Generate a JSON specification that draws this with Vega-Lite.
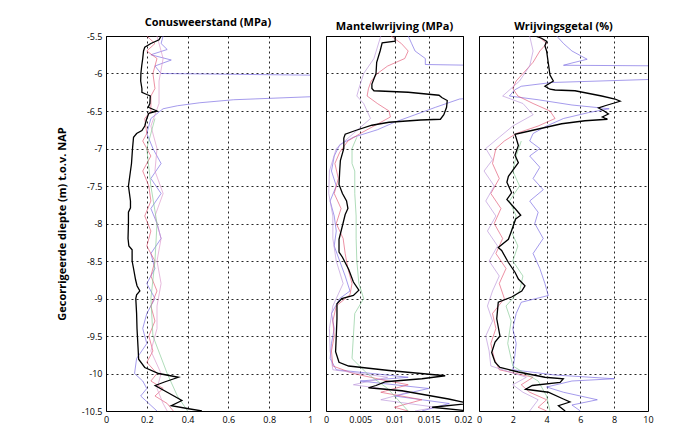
{
"$schema":"https://vega.github.io/schema/vega-lite/v6.json",
"padding":{"left":55,"top":16,"right":5,"bottom":2},
"background":"white",
"bounds":"flush",
"config":{
"font":"Open Sans",
"view":{"stroke":"#000","strokeWidth":1},
"axis":{"grid":true,"gridColor":"#000","gridDash":[2,3],"gridWidth":1,"gridOpacity":0.85,"ticks":false,"domain":false,"labelFontSize":9,"labelColor":"#000","labelPadding":4,"labelFlush":false,"titleColor":"#000","titleFontSize":11,"titleFontWeight":"bold"},
"title":{"fontSize":11,"fontWeight":"bold","color":"#000","offset":4,"anchor":"middle"},
"concat":{"spacing":16}
},
"datasets":{
"qc":[
{"s":"k","d":-5.5,"v":0.27},{"s":"k","d":-5.55,"v":0.26},{"s":"k","d":-5.6,"v":0.22},{"s":"k","d":-5.65,"v":0.19},{"s":"k","d":-5.7,"v":0.184},{"s":"k","d":-5.8,"v":0.18},{"s":"k","d":-5.9,"v":0.175},{"s":"k","d":-6.0,"v":0.171},{"s":"k","d":-6.1,"v":0.17},{"s":"k","d":-6.2,"v":0.176},{"s":"k","d":-6.25,"v":0.176},{"s":"k","d":-6.28,"v":0.2},{"s":"k","d":-6.3,"v":0.217},{"s":"k","d":-6.4,"v":0.215},{"s":"k","d":-6.45,"v":0.207},{"s":"k","d":-6.5,"v":0.25},{"s":"k","d":-6.53,"v":0.21},{"s":"k","d":-6.6,"v":0.2},{"s":"k","d":-6.7,"v":0.19},{"s":"k","d":-6.76,"v":0.176},{"s":"k","d":-6.8,"v":0.15},{"s":"k","d":-6.85,"v":0.135},{"s":"k","d":-7.0,"v":0.13},{"s":"k","d":-7.2,"v":0.125},{"s":"k","d":-7.4,"v":0.115},{"s":"k","d":-7.5,"v":0.11},{"s":"k","d":-7.6,"v":0.115},{"s":"k","d":-7.7,"v":0.12},{"s":"k","d":-7.79,"v":0.12},{"s":"k","d":-7.85,"v":0.11},{"s":"k","d":-8.0,"v":0.11},{"s":"k","d":-8.2,"v":0.108},{"s":"k","d":-8.3,"v":0.112},{"s":"k","d":-8.35,"v":0.128},{"s":"k","d":-8.5,"v":0.128},{"s":"k","d":-8.6,"v":0.135},{"s":"k","d":-8.75,"v":0.145},{"s":"k","d":-8.83,"v":0.152},{"s":"k","d":-8.9,"v":0.166},{"s":"k","d":-8.95,"v":0.15},{"s":"k","d":-9.0,"v":0.146},{"s":"k","d":-9.2,"v":0.15},{"s":"k","d":-9.4,"v":0.152},{"s":"k","d":-9.5,"v":0.154},{"s":"k","d":-9.7,"v":0.158},{"s":"k","d":-9.81,"v":0.16},{"s":"k","d":-9.92,"v":0.19},{"s":"k","d":-10.0,"v":0.258},{"s":"k","d":-10.05,"v":0.355},{"s":"k","d":-10.11,"v":0.29},{"s":"k","d":-10.16,"v":0.241},{"s":"k","d":-10.25,"v":0.3},{"s":"k","d":-10.36,"v":0.372},{"s":"k","d":-10.43,"v":0.32},{"s":"k","d":-10.47,"v":0.405},{"s":"k","d":-10.5,"v":0.47},
{"s":"b","d":-5.5,"v":0.28},{"s":"b","d":-5.6,"v":0.27},{"s":"b","d":-5.68,"v":0.3},{"s":"b","d":-5.75,"v":0.22},{"s":"b","d":-5.82,"v":0.32},{"s":"b","d":-5.9,"v":0.24},{"s":"b","d":-6.0,"v":0.27},{"s":"b","d":-6.04,"v":1.6},{"s":"b","d":-6.29,"v":1.6},{"s":"b","d":-6.31,"v":1.0},{"s":"b","d":-6.35,"v":0.625},{"s":"b","d":-6.39,"v":0.46},{"s":"b","d":-6.43,"v":0.35},{"s":"b","d":-6.47,"v":0.28},{"s":"b","d":-6.6,"v":0.22},{"s":"b","d":-6.8,"v":0.2},{"s":"b","d":-7.0,"v":0.23},{"s":"b","d":-7.2,"v":0.27},{"s":"b","d":-7.4,"v":0.22},{"s":"b","d":-7.6,"v":0.27},{"s":"b","d":-7.8,"v":0.22},{"s":"b","d":-8.0,"v":0.25},{"s":"b","d":-8.2,"v":0.27},{"s":"b","d":-8.4,"v":0.22},{"s":"b","d":-8.6,"v":0.24},{"s":"b","d":-8.8,"v":0.2},{"s":"b","d":-9.0,"v":0.24},{"s":"b","d":-9.2,"v":0.2},{"s":"b","d":-9.4,"v":0.18},{"s":"b","d":-9.6,"v":0.2},{"s":"b","d":-9.8,"v":0.15},{"s":"b","d":-10.0,"v":0.14},{"s":"b","d":-10.1,"v":0.18},{"s":"b","d":-10.2,"v":0.2},{"s":"b","d":-10.3,"v":0.17},{"s":"b","d":-10.4,"v":0.21},{"s":"b","d":-10.5,"v":0.25},
{"s":"r","d":-5.5,"v":0.2},{"s":"r","d":-5.6,"v":0.24},{"s":"r","d":-5.7,"v":0.2},{"s":"r","d":-5.8,"v":0.25},{"s":"r","d":-6.0,"v":0.23},{"s":"r","d":-6.2,"v":0.24},{"s":"r","d":-6.3,"v":0.22},{"s":"r","d":-6.5,"v":0.22},{"s":"r","d":-6.6,"v":0.19},{"s":"r","d":-6.8,"v":0.2},{"s":"r","d":-6.9,"v":0.18},{"s":"r","d":-7.1,"v":0.22},{"s":"r","d":-7.3,"v":0.18},{"s":"r","d":-7.5,"v":0.21},{"s":"r","d":-7.7,"v":0.22},{"s":"r","d":-7.9,"v":0.19},{"s":"r","d":-8.1,"v":0.22},{"s":"r","d":-8.3,"v":0.2},{"s":"r","d":-8.5,"v":0.24},{"s":"r","d":-8.7,"v":0.22},{"s":"r","d":-8.9,"v":0.25},{"s":"r","d":-9.1,"v":0.22},{"s":"r","d":-9.3,"v":0.24},{"s":"r","d":-9.5,"v":0.21},{"s":"r","d":-9.7,"v":0.23},{"s":"r","d":-9.85,"v":0.2},{"s":"r","d":-10.0,"v":0.25},{"s":"r","d":-10.1,"v":0.22},{"s":"r","d":-10.2,"v":0.28},{"s":"r","d":-10.3,"v":0.24},{"s":"r","d":-10.4,"v":0.3},{"s":"r","d":-10.5,"v":0.33},
{"s":"p","d":-5.5,"v":0.25},{"s":"p","d":-5.8,"v":0.28},{"s":"p","d":-6.1,"v":0.26},{"s":"p","d":-6.4,"v":0.26},{"s":"p","d":-6.7,"v":0.22},{"s":"p","d":-7.0,"v":0.25},{"s":"p","d":-7.3,"v":0.24},{"s":"p","d":-7.6,"v":0.28},{"s":"p","d":-7.9,"v":0.24},{"s":"p","d":-8.2,"v":0.27},{"s":"p","d":-8.5,"v":0.25},{"s":"p","d":-8.8,"v":0.27},{"s":"p","d":-9.1,"v":0.25},{"s":"p","d":-9.4,"v":0.25},{"s":"p","d":-9.7,"v":0.22},{"s":"p","d":-10.0,"v":0.27},{"s":"p","d":-10.2,"v":0.25},{"s":"p","d":-10.4,"v":0.28},{"s":"p","d":-10.5,"v":0.3},
{"s":"g","d":-6.6,"v":0.24},{"s":"g","d":-7.0,"v":0.2},{"s":"g","d":-7.5,"v":0.22},{"s":"g","d":-8.0,"v":0.25},{"s":"g","d":-8.5,"v":0.24},{"s":"g","d":-9.0,"v":0.22},{"s":"g","d":-9.5,"v":0.23},{"s":"g","d":-10.0,"v":0.3},{"s":"g","d":-10.3,"v":0.35},{"s":"g","d":-10.5,"v":0.4}
],
"fs":[
{"s":"k","d":-5.5,"v":0.0101},{"s":"k","d":-5.57,"v":0.0101},{"s":"k","d":-5.59,"v":0.0082},{"s":"k","d":-5.7,"v":0.0079},{"s":"k","d":-5.85,"v":0.0074},{"s":"k","d":-6.0,"v":0.0073},{"s":"k","d":-6.14,"v":0.0067},{"s":"k","d":-6.2,"v":0.0067},{"s":"k","d":-6.23,"v":0.007},{"s":"k","d":-6.25,"v":0.012},{"s":"k","d":-6.29,"v":0.0165},{"s":"k","d":-6.32,"v":0.0169},{"s":"k","d":-6.36,"v":0.0177},{"s":"k","d":-6.45,"v":0.0176},{"s":"k","d":-6.55,"v":0.0172},{"s":"k","d":-6.61,"v":0.0167},{"s":"k","d":-6.62,"v":0.0138},{"s":"k","d":-6.65,"v":0.0092},{"s":"k","d":-6.69,"v":0.0067},{"s":"k","d":-6.76,"v":0.0043},{"s":"k","d":-6.81,"v":0.0028},{"s":"k","d":-6.86,"v":0.0026},{"s":"k","d":-7.0,"v":0.0026},{"s":"k","d":-7.16,"v":0.0021},{"s":"k","d":-7.3,"v":0.002},{"s":"k","d":-7.48,"v":0.0019},{"s":"k","d":-7.6,"v":0.0024},{"s":"k","d":-7.7,"v":0.003},{"s":"k","d":-7.8,"v":0.0032},{"s":"k","d":-7.88,"v":0.0028},{"s":"k","d":-8.03,"v":0.0024},{"s":"k","d":-8.21,"v":0.0019},{"s":"k","d":-8.38,"v":0.0019},{"s":"k","d":-8.45,"v":0.0024},{"s":"k","d":-8.61,"v":0.0033},{"s":"k","d":-8.78,"v":0.004},{"s":"k","d":-8.89,"v":0.0048},{"s":"k","d":-8.96,"v":0.004},{"s":"k","d":-9.0,"v":0.0023},{"s":"k","d":-9.07,"v":0.0016},{"s":"k","d":-9.27,"v":0.0016},{"s":"k","d":-9.5,"v":0.0015},{"s":"k","d":-9.71,"v":0.0014},{"s":"k","d":-9.85,"v":0.0019},{"s":"k","d":-9.9,"v":0.0033},{"s":"k","d":-9.96,"v":0.0092},{"s":"k","d":-10.03,"v":0.0174},{"s":"k","d":-10.07,"v":0.014},{"s":"k","d":-10.11,"v":0.0087},{"s":"k","d":-10.16,"v":0.0073},{"s":"k","d":-10.19,"v":0.0062},{"s":"k","d":-10.23,"v":0.0111},{"s":"k","d":-10.34,"v":0.0179},{"s":"k","d":-10.4,"v":0.021},{"s":"k","d":-10.45,"v":0.0155},{"s":"k","d":-10.5,"v":0.021},
{"s":"b","d":-5.5,"v":0.012},{"s":"b","d":-5.6,"v":0.0125},{"s":"b","d":-5.7,"v":0.013},{"s":"b","d":-5.8,"v":0.0145},{"s":"b","d":-5.88,"v":0.0145},{"s":"b","d":-5.9,"v":0.028},{"s":"b","d":-6.3,"v":0.028},{"s":"b","d":-6.34,"v":0.0195},{"s":"b","d":-6.45,"v":0.016},{"s":"b","d":-6.55,"v":0.013},{"s":"b","d":-6.65,"v":0.01},{"s":"b","d":-6.75,"v":0.0075},{"s":"b","d":-6.85,"v":0.004},{"s":"b","d":-6.95,"v":0.002},{"s":"b","d":-7.1,"v":0.0012},{"s":"b","d":-7.3,"v":0.0008},{"s":"b","d":-7.5,"v":0.0015},{"s":"b","d":-7.7,"v":0.0006},{"s":"b","d":-7.9,"v":0.0012},{"s":"b","d":-8.1,"v":0.0015},{"s":"b","d":-8.3,"v":0.0012},{"s":"b","d":-8.5,"v":0.002},{"s":"b","d":-8.7,"v":0.0028},{"s":"b","d":-8.9,"v":0.0035},{"s":"b","d":-9.0,"v":0.002},{"s":"b","d":-9.2,"v":0.0008},{"s":"b","d":-9.4,"v":0.0012},{"s":"b","d":-9.6,"v":0.0008},{"s":"b","d":-9.8,"v":0.0006},{"s":"b","d":-9.95,"v":0.0015},{"s":"b","d":-10.05,"v":0.012},{"s":"b","d":-10.1,"v":0.005},{"s":"b","d":-10.2,"v":0.015},{"s":"b","d":-10.3,"v":0.01},{"s":"b","d":-10.4,"v":0.018},{"s":"b","d":-10.5,"v":0.014},
{"s":"r","d":-5.5,"v":0.0095},{"s":"r","d":-5.6,"v":0.011},{"s":"r","d":-5.7,"v":0.012},{"s":"r","d":-5.8,"v":0.0115},{"s":"r","d":-5.9,"v":0.009},{"s":"r","d":-6.0,"v":0.0075},{"s":"r","d":-6.1,"v":0.0066},{"s":"r","d":-6.2,"v":0.0062},{"s":"r","d":-6.3,"v":0.006},{"s":"r","d":-6.4,"v":0.0075},{"s":"r","d":-6.5,"v":0.0092},{"s":"r","d":-6.58,"v":0.0094},{"s":"r","d":-6.7,"v":0.007},{"s":"r","d":-6.8,"v":0.005},{"s":"r","d":-6.9,"v":0.0032},{"s":"r","d":-7.05,"v":0.002},{"s":"r","d":-7.2,"v":0.0013},{"s":"r","d":-7.4,"v":0.0018},{"s":"r","d":-7.6,"v":0.0012},{"s":"r","d":-7.8,"v":0.0022},{"s":"r","d":-8.0,"v":0.0015},{"s":"r","d":-8.2,"v":0.0025},{"s":"r","d":-8.4,"v":0.0028},{"s":"r","d":-8.6,"v":0.0032},{"s":"r","d":-8.8,"v":0.0038},{"s":"r","d":-8.95,"v":0.0035},{"s":"r","d":-9.1,"v":0.0015},{"s":"r","d":-9.3,"v":0.001},{"s":"r","d":-9.5,"v":0.0012},{"s":"r","d":-9.7,"v":0.0008},{"s":"r","d":-9.9,"v":0.001},{"s":"r","d":-10.0,"v":0.004},{"s":"r","d":-10.08,"v":0.008},{"s":"r","d":-10.15,"v":0.012},{"s":"r","d":-10.25,"v":0.008},{"s":"r","d":-10.35,"v":0.014},{"s":"r","d":-10.45,"v":0.01},{"s":"r","d":-10.5,"v":0.012},
{"s":"p","d":-5.5,"v":0.008},{"s":"p","d":-5.8,"v":0.007},{"s":"p","d":-6.0,"v":0.0055},{"s":"p","d":-6.2,"v":0.0048},{"s":"p","d":-6.3,"v":0.0045},{"s":"p","d":-6.4,"v":0.0055},{"s":"p","d":-6.6,"v":0.0065},{"s":"p","d":-6.8,"v":0.004},{"s":"p","d":-7.0,"v":0.0015},{"s":"p","d":-7.3,"v":0.0005},{"s":"p","d":-7.6,"v":0.0004},{"s":"p","d":-7.9,"v":0.001},{"s":"p","d":-8.2,"v":0.001},{"s":"p","d":-8.5,"v":0.0015},{"s":"p","d":-8.8,"v":0.0025},{"s":"p","d":-9.1,"v":0.001},{"s":"p","d":-9.4,"v":0.0005},{"s":"p","d":-9.7,"v":0.0006},{"s":"p","d":-9.95,"v":0.001},{"s":"p","d":-10.05,"v":0.009},{"s":"p","d":-10.15,"v":0.004},{"s":"p","d":-10.25,"v":0.012},{"s":"p","d":-10.35,"v":0.008},{"s":"p","d":-10.45,"v":0.016},{"s":"p","d":-10.5,"v":0.013},
{"s":"g","d":-6.85,"v":0.0045},{"s":"g","d":-7.0,"v":0.0038},{"s":"g","d":-7.2,"v":0.0038},{"s":"g","d":-7.3,"v":0.0042},{"s":"g","d":-7.6,"v":0.0042},{"s":"g","d":-7.9,"v":0.0044},{"s":"g","d":-8.2,"v":0.0044},{"s":"g","d":-8.5,"v":0.0045},{"s":"g","d":-8.8,"v":0.0048},{"s":"g","d":-9.0,"v":0.0055},{"s":"g","d":-9.2,"v":0.0042},{"s":"g","d":-9.5,"v":0.004},{"s":"g","d":-9.8,"v":0.0038},{"s":"g","d":-10.0,"v":0.006},{"s":"g","d":-10.2,"v":0.009},{"s":"g","d":-10.4,"v":0.011},{"s":"g","d":-10.5,"v":0.012}
],
"rf":[
{"s":"k","d":-5.5,"v":3.31},{"s":"k","d":-5.53,"v":3.7},{"s":"k","d":-5.57,"v":4.0},{"s":"k","d":-5.63,"v":3.9},{"s":"k","d":-5.7,"v":4.0},{"s":"k","d":-5.86,"v":4.1},{"s":"k","d":-6.02,"v":4.2},{"s":"k","d":-6.1,"v":4.4},{"s":"k","d":-6.17,"v":3.9},{"s":"k","d":-6.21,"v":4.2},{"s":"k","d":-6.22,"v":4.5},{"s":"k","d":-6.23,"v":5.68},{"s":"k","d":-6.3,"v":7.26},{"s":"k","d":-6.34,"v":8.05},{"s":"k","d":-6.37,"v":8.35},{"s":"k","d":-6.43,"v":7.46},{"s":"k","d":-6.46,"v":7.07},{"s":"k","d":-6.5,"v":7.4},{"s":"k","d":-6.54,"v":7.66},{"s":"k","d":-6.58,"v":7.3},{"s":"k","d":-6.61,"v":7.6},{"s":"k","d":-6.63,"v":6.27},{"s":"k","d":-6.67,"v":4.89},{"s":"k","d":-6.76,"v":3.12},{"s":"k","d":-6.81,"v":2.13},{"s":"k","d":-6.86,"v":2.2},{"s":"k","d":-6.96,"v":2.33},{"s":"k","d":-7.09,"v":2.13},{"s":"k","d":-7.19,"v":2.33},{"s":"k","d":-7.37,"v":1.74},{"s":"k","d":-7.45,"v":1.65},{"s":"k","d":-7.59,"v":1.93},{"s":"k","d":-7.68,"v":1.65},{"s":"k","d":-7.81,"v":2.17},{"s":"k","d":-7.89,"v":2.47},{"s":"k","d":-7.94,"v":2.17},{"s":"k","d":-8.07,"v":1.97},{"s":"k","d":-8.21,"v":1.74},{"s":"k","d":-8.32,"v":1.14},{"s":"k","d":-8.36,"v":1.34},{"s":"k","d":-8.52,"v":1.74},{"s":"k","d":-8.65,"v":2.13},{"s":"k","d":-8.74,"v":2.33},{"s":"k","d":-8.83,"v":2.72},{"s":"k","d":-8.9,"v":2.53},{"s":"k","d":-8.98,"v":1.93},{"s":"k","d":-9.05,"v":1.14},{"s":"k","d":-9.27,"v":1.05},{"s":"k","d":-9.5,"v":1.24},{"s":"k","d":-9.58,"v":0.95},{"s":"k","d":-9.72,"v":0.75},{"s":"k","d":-9.85,"v":0.95},{"s":"k","d":-9.92,"v":1.24},{"s":"k","d":-9.98,"v":2.33},{"s":"k","d":-10.05,"v":3.9},{"s":"k","d":-10.07,"v":4.99},{"s":"k","d":-10.12,"v":4.8},{"s":"k","d":-10.16,"v":3.15},{"s":"k","d":-10.21,"v":2.76},{"s":"k","d":-10.25,"v":4.1},{"s":"k","d":-10.34,"v":4.99},{"s":"k","d":-10.38,"v":5.38},{"s":"k","d":-10.43,"v":4.7},{"s":"k","d":-10.5,"v":5.1},
{"s":"b","d":-5.5,"v":4.6},{"s":"b","d":-5.6,"v":5.0},{"s":"b","d":-5.7,"v":5.5},{"s":"b","d":-5.81,"v":6.4},{"s":"b","d":-5.86,"v":5.5},{"s":"b","d":-5.89,"v":5.0},{"s":"b","d":-5.9,"v":12},{"s":"b","d":-6.06,"v":12},{"s":"b","d":-6.08,"v":10},{"s":"b","d":-6.12,"v":4.3},{"s":"b","d":-6.17,"v":2.5},{"s":"b","d":-6.22,"v":2.1},{"s":"b","d":-6.3,"v":1.8},{"s":"b","d":-6.35,"v":3.5},{"s":"b","d":-6.42,"v":5.5},{"s":"b","d":-6.47,"v":7.7},{"s":"b","d":-6.52,"v":6.5},{"s":"b","d":-6.6,"v":5.0},{"s":"b","d":-6.7,"v":4.0},{"s":"b","d":-6.8,"v":3.2},{"s":"b","d":-6.9,"v":3.0},{"s":"b","d":-7.0,"v":3.6},{"s":"b","d":-7.1,"v":3.0},{"s":"b","d":-7.25,"v":3.6},{"s":"b","d":-7.4,"v":3.2},{"s":"b","d":-7.55,"v":3.8},{"s":"b","d":-7.7,"v":3.0},{"s":"b","d":-7.85,"v":3.5},{"s":"b","d":-8.0,"v":3.3},{"s":"b","d":-8.2,"v":3.8},{"s":"b","d":-8.4,"v":3.2},{"s":"b","d":-8.6,"v":3.6},{"s":"b","d":-8.8,"v":3.9},{"s":"b","d":-8.96,"v":4.1},{"s":"b","d":-9.05,"v":2.5},{"s":"b","d":-9.2,"v":2.2},{"s":"b","d":-9.4,"v":2.0},{"s":"b","d":-9.6,"v":2.2},{"s":"b","d":-9.8,"v":2.1},{"s":"b","d":-9.95,"v":2.0},{"s":"b","d":-10.02,"v":4.5},{"s":"b","d":-10.07,"v":8.0},{"s":"b","d":-10.1,"v":5.5},{"s":"b","d":-10.18,"v":4.0},{"s":"b","d":-10.25,"v":5.0},{"s":"b","d":-10.35,"v":7.0},{"s":"b","d":-10.42,"v":5.5},{"s":"b","d":-10.5,"v":6.0},
{"s":"r","d":-5.5,"v":3.5},{"s":"r","d":-5.6,"v":4.0},{"s":"r","d":-5.7,"v":3.6},{"s":"r","d":-5.85,"v":3.2},{"s":"r","d":-6.0,"v":2.6},{"s":"r","d":-6.1,"v":2.2},{"s":"r","d":-6.2,"v":2.0},{"s":"r","d":-6.3,"v":2.3},{"s":"r","d":-6.4,"v":3.2},{"s":"r","d":-6.5,"v":4.2},{"s":"r","d":-6.6,"v":4.5},{"s":"r","d":-6.7,"v":3.5},{"s":"r","d":-6.8,"v":2.2},{"s":"r","d":-6.9,"v":1.5},{"s":"r","d":-7.0,"v":1.0},{"s":"r","d":-7.2,"v":0.8},{"s":"r","d":-7.4,"v":1.2},{"s":"r","d":-7.6,"v":0.7},{"s":"r","d":-7.8,"v":1.3},{"s":"r","d":-8.0,"v":0.9},{"s":"r","d":-8.2,"v":1.4},{"s":"r","d":-8.4,"v":1.0},{"s":"r","d":-8.6,"v":1.6},{"s":"r","d":-8.8,"v":1.2},{"s":"r","d":-9.0,"v":1.5},{"s":"r","d":-9.2,"v":0.8},{"s":"r","d":-9.4,"v":1.0},{"s":"r","d":-9.6,"v":0.7},{"s":"r","d":-9.8,"v":0.9},{"s":"r","d":-9.95,"v":1.2},{"s":"r","d":-10.05,"v":3.2},{"s":"r","d":-10.15,"v":2.5},{"s":"r","d":-10.25,"v":3.0},{"s":"r","d":-10.35,"v":4.0},{"s":"r","d":-10.45,"v":3.5},{"s":"r","d":-10.5,"v":4.0},
{"s":"p","d":-5.5,"v":3.0},{"s":"p","d":-5.7,"v":3.2},{"s":"p","d":-5.9,"v":3.0},{"s":"p","d":-6.1,"v":2.4},{"s":"p","d":-6.2,"v":1.9},{"s":"p","d":-6.3,"v":1.4},{"s":"p","d":-6.4,"v":2.6},{"s":"p","d":-6.55,"v":3.2},{"s":"p","d":-6.7,"v":2.0},{"s":"p","d":-6.85,"v":1.2},{"s":"p","d":-7.0,"v":0.4},{"s":"p","d":-7.15,"v":0.8},{"s":"p","d":-7.3,"v":0.3},{"s":"p","d":-7.5,"v":0.9},{"s":"p","d":-7.7,"v":0.4},{"s":"p","d":-7.9,"v":1.0},{"s":"p","d":-8.1,"v":0.5},{"s":"p","d":-8.3,"v":1.1},{"s":"p","d":-8.5,"v":0.6},{"s":"p","d":-8.7,"v":1.2},{"s":"p","d":-8.9,"v":0.8},{"s":"p","d":-9.1,"v":0.5},{"s":"p","d":-9.3,"v":0.8},{"s":"p","d":-9.5,"v":0.4},{"s":"p","d":-9.7,"v":0.6},{"s":"p","d":-9.9,"v":0.7},{"s":"p","d":-10.05,"v":2.8},{"s":"p","d":-10.15,"v":2.0},{"s":"p","d":-10.25,"v":2.6},{"s":"p","d":-10.35,"v":3.5},{"s":"p","d":-10.5,"v":3.0},
{"s":"g","d":-6.9,"v":2.5},{"s":"g","d":-7.1,"v":2.2},{"s":"g","d":-7.3,"v":2.0},{"s":"g","d":-7.5,"v":2.4},{"s":"g","d":-7.7,"v":1.8},{"s":"g","d":-7.9,"v":2.2},{"s":"g","d":-8.1,"v":1.9},{"s":"g","d":-8.3,"v":2.3},{"s":"g","d":-8.5,"v":2.0},{"s":"g","d":-8.7,"v":2.6},{"s":"g","d":-8.9,"v":2.4},{"s":"g","d":-9.1,"v":1.6},{"s":"g","d":-9.3,"v":1.9},{"s":"g","d":-9.6,"v":1.7},{"s":"g","d":-9.9,"v":2.0},{"s":"g","d":-10.1,"v":3.5},{"s":"g","d":-10.3,"v":4.0},{"s":"g","d":-10.5,"v":4.2}
]
},
"hconcat":[
{"width":204,"height":375,"title":"Conusweerstand (MPa)","data":{"name":"qc"},
"encoding":{
"y":{"field":"d","type":"quantitative","scale":{"domain":[-10.5,-5.5],"nice":false,"zero":false},"axis":{"values":[-10.5,-10,-9.5,-9,-8.5,-8,-7.5,-7,-6.5,-6,-5.5],"labelExpr":"datum.value + ''","title":"Gecorrigeerde diepte (m) t.o.v. NAP","titlePadding":14}},
"x":{"field":"v","type":"quantitative","scale":{"domain":[0,1],"nice":false,"zero":false},"axis":{"values":[0,0.2,0.4,0.6,0.8,1],"labelExpr":"datum.value + ''","title":null}},
"order":{"field":"d","sort":"descending"},
"color":{"field":"s","type":"nominal","scale":{"domain":["k","b","r","p","g"],"range":["#000000","#6f5fe0","#e0506e","#d890c8","#80c890"]},"legend":null}
},
"layer":[
{"transform":[{"filter":"datum.s != 'k'"}],"mark":{"type":"line","clip":true,"strokeWidth":0.9,"opacity":0.7}},
{"transform":[{"filter":"datum.s == 'k'"}],"mark":{"type":"line","clip":true,"strokeWidth":1.3}}
]},
{"width":137,"height":375,"title":"Mantelwrijving (MPa)","data":{"name":"fs"},
"encoding":{
"y":{"field":"d","type":"quantitative","scale":{"domain":[-10.5,-5.5],"nice":false,"zero":false},"axis":{"values":[-10.5,-10,-9.5,-9,-8.5,-8,-7.5,-7,-6.5,-6,-5.5],"labels":false,"title":null}},
"x":{"field":"v","type":"quantitative","scale":{"domain":[0,0.02],"nice":false,"zero":false},"axis":{"values":[0,0.005,0.01,0.015,0.02],"labelExpr":"datum.value + ''","title":null}},
"order":{"field":"d","sort":"descending"},
"color":{"field":"s","type":"nominal","scale":{"domain":["k","b","r","p","g"],"range":["#000000","#6f5fe0","#e0506e","#b890d8","#80c890"]},"legend":null}
},
"layer":[
{"transform":[{"filter":"datum.s != 'k'"}],"mark":{"type":"line","clip":true,"strokeWidth":0.9,"opacity":0.7}},
{"transform":[{"filter":"datum.s == 'k'"}],"mark":{"type":"line","clip":true,"strokeWidth":1.3}}
]},
{"width":169,"height":375,"title":"Wrijvingsgetal (%)","data":{"name":"rf"},
"encoding":{
"y":{"field":"d","type":"quantitative","scale":{"domain":[-10.5,-5.5],"nice":false,"zero":false},"axis":{"values":[-10.5,-10,-9.5,-9,-8.5,-8,-7.5,-7,-6.5,-6,-5.5],"labels":false,"title":null}},
"x":{"field":"v","type":"quantitative","scale":{"domain":[0,10],"nice":false,"zero":false},"axis":{"values":[0,2,4,6,8,10],"title":null}},
"order":{"field":"d","sort":"descending"},
"color":{"field":"s","type":"nominal","scale":{"domain":["k","b","r","p","g"],"range":["#000000","#6f5fe0","#e0506e","#b890d8","#80c890"]},"legend":null}
},
"layer":[
{"transform":[{"filter":"datum.s != 'k'"}],"mark":{"type":"line","clip":true,"strokeWidth":0.9,"opacity":0.7}},
{"transform":[{"filter":"datum.s == 'k'"}],"mark":{"type":"line","clip":true,"strokeWidth":1.3}}
]}
],
"resolve":{"scale":{"color":"independent"}}
}
